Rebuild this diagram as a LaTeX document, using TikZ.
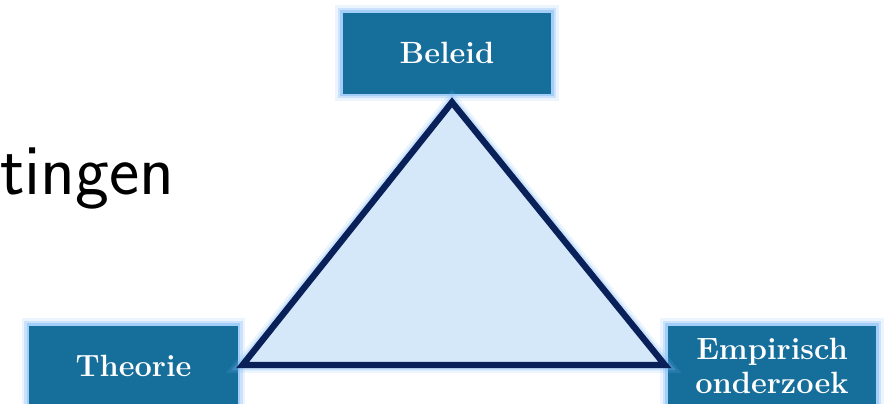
\documentclass[tikz,border=0pt]{standalone}
\usepackage{xcolor}
\definecolor{trBox}  {RGB}{ 22, 110, 155}
\definecolor{trGlow} {RGB}{125, 185, 245}
\definecolor{trFill} {RGB}{212, 232, 250}
\definecolor{trNavy} {RGB}{ 10,  32,  88}
\usepackage{tikz}
\usetikzlibrary{
  positioning,
  calc,
}

\begin{document}
\begin{tikzpicture}[
  glow/.style={preaction={draw=trGlow, line width=9pt, opacity=0.15},
               preaction={draw=trGlow, line width=6pt, opacity=0.3},
               preaction={draw=trGlow, line width=3.5pt, opacity=0.5}},
  corner/.style={glow, draw=trBox, fill=trBox, minimum width=4.15cm,
                 minimum height=1.6cm, align=center, text=white,
                 font=\fontsize{17.5}{19}\selectfont\bfseries},
  side/.style={glow, draw=trNavy, line width=3.6pt, fill=trFill,
               line join=miter},
]
  % Crop of the slide: fixes the margins
  \useasboundingbox (0,0) rectangle (17.74,8.08);

  % Heading fragment, cut at the left edge
  \node[anchor=base west, inner sep=0pt,
        font=\sffamily\fontsize{41}{44}\selectfont] (kop) at (0.0,4.18) {tingen};

  % The three corners
  \node[corner] (beleid)    at (8.94,7.02) {Beleid};
  \node[corner] (theorie)   at (2.67,0.76) {Theorie};
  \node[corner] (empirisch) at (15.44,0.76) {Empirisch\\onderzoek};

  % Triangle between the corners
  \draw[side] ($(beleid.south)+(0.1,-0.18)$) -- ($(empirisch.west)+(-0.06,0.02)$)
    -- ($(theorie.east)+(0.1,0.02)$) -- cycle;
\end{tikzpicture}
\end{document}
